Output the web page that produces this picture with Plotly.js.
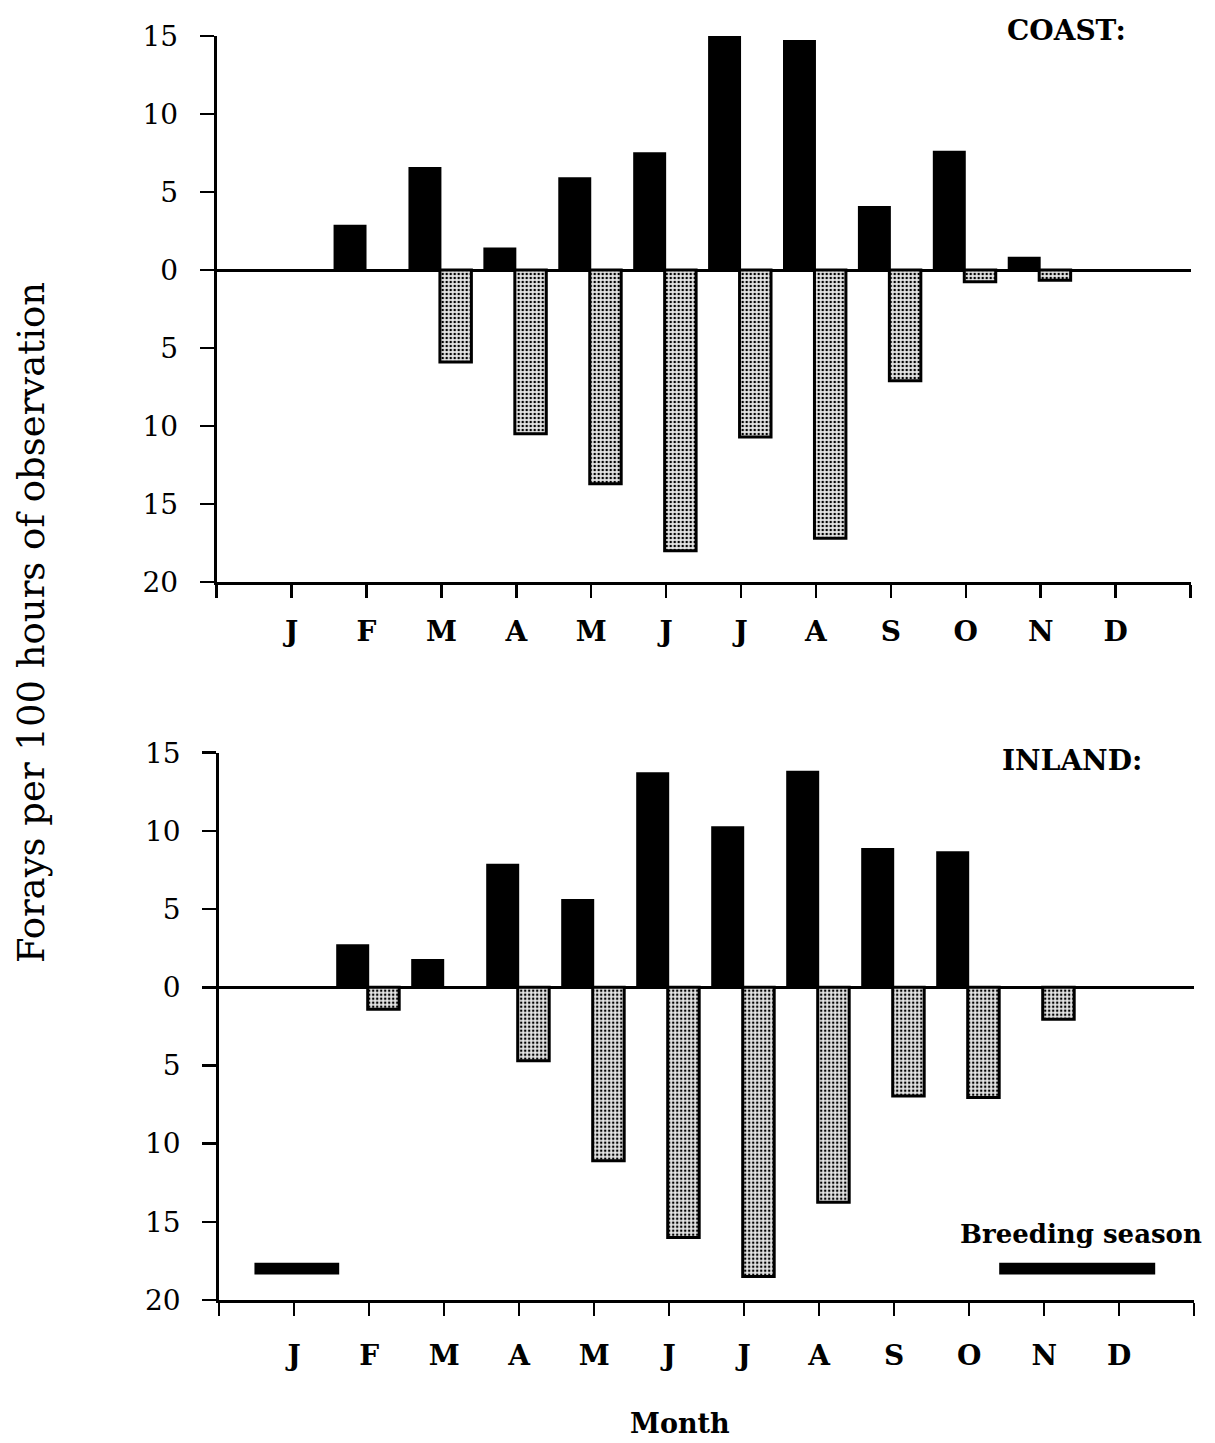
<!DOCTYPE html>
<html>
<head>
<meta charset="utf-8">
<script src="https://cdn.plot.ly/plotly-3.0.1.min.js"></script>
<style>
  html, body { margin: 0; padding: 0; background: #fff; }
  #chart { width: 1215px; height: 1443px; }
</style>
</head>
<body>
<div id="chart"></div>
<script>
// Month labels, January to December
const months = ['J', 'F', 'M', 'A', 'M', 'J', 'J', 'A', 'S', 'O', 'N', 'D'];

// Forays per 100 hours of observation, coast site
const coastAbove = [0, 2.9, 6.6, 1.45, 5.95, 7.55, 15.05, 14.75, 4.1, 7.65, 0.85, 0];
const coastBelow = [0, 0, 5.9, 10.5, 13.7, 18.0, 10.7, 17.2, 7.1, 0.75, 0.65, 0];

// Forays per 100 hours of observation, inland site
const inlandAbove = [0, 2.75, 1.8, 7.9, 5.65, 13.75, 10.3, 13.85, 8.9, 8.7, 0, 0];
const inlandBelow = [0, 1.4, 0, 4.7, 11.1, 16.0, 18.5, 13.75, 6.95, 7.05, 2.05, 0];

// Breeding season spans on the month scale (1 = January centre)
const breedingStart = [0.47, 10.4];
const breedingEnd = [1.6, 12.48];

// Both halves of the value axis are read as positive counts
const yTickVals = [-20, -15, -10, -5, 0, 5, 10, 15];
const yTickText = ['20', '15', '10', '5', '0', '5', '10', '15'];

const monthPos = months.map((m, i) => i + 1);
const xTickVals = [0].concat(monthPos, [13]);
const xTickText = [''].concat(months, ['']);

const SERIF = 'DejaVu Serif, Liberation Serif, serif';

// months with no forays get no bar at all
const orNull = v => (v === 0 ? null : v);

function upperBars(vals, xa, ya) {
  return {
    type: 'bar', x: monthPos, y: vals.map(orNull), xaxis: xa, yaxis: ya,
    width: 0.44, offset: -0.44,
    marker: { color: '#000', line: { width: 0 } }
  };
}
function lowerBars(vals, xa, ya) {
  return {
    type: 'bar', x: monthPos, y: vals.map(v => orNull(-v)), xaxis: xa, yaxis: ya,
    width: 0.42, offset: -0.02,
    marker: {
      color: '#e4e4e4',
      pattern: { shape: '.', fgcolor: '#000', bgcolor: '#e4e4e4', size: 4, solidity: 0.3 },
      line: { color: '#000', width: 3 }
    }
  };
}

const breeding = {
  type: 'bar', orientation: 'h',
  base: breedingStart,
  x: breedingEnd.map((e, i) => e - breedingStart[i]),
  y: breedingStart.map(() => -18),
  width: 0.75,
  xaxis: 'x2', yaxis: 'y2',
  marker: { color: '#000', line: { width: 0 } }
};

const data = [
  upperBars(coastAbove, 'x', 'y'),
  lowerBars(coastBelow, 'x', 'y'),
  upperBars(inlandAbove, 'x2', 'y2'),
  lowerBars(inlandBelow, 'x2', 'y2'),
  breeding
];

function xAxis(domain, anchor, standoff) {
  return {
    domain: domain, anchor: anchor, range: [0, 13],
    tickmode: 'array', tickvals: xTickVals, ticktext: xTickText,
    ticks: 'outside', ticklen: 13, tickwidth: 2.5, tickcolor: '#000',
    showline: true, linewidth: 3, linecolor: '#000',
    showgrid: false, zeroline: false,
    ticklabelstandoff: standoff,
    tickfont: { family: SERIF, size: 28, color: '#000', weight: 'bold' },
    fixedrange: true
  };
}
function yAxis(domain, anchor) {
  return {
    domain: domain, anchor: anchor, range: [-20, 15],
    tickmode: 'array', tickvals: yTickVals, ticktext: yTickText,
    ticks: 'outside', ticklen: 14, tickwidth: 2.5, tickcolor: '#000',
    showline: true, linewidth: 3, linecolor: '#000',
    showgrid: false,
    zeroline: true, zerolinecolor: '#000', zerolinewidth: 3,
    ticklabelstandoff: 16,
    tickfont: { family: SERIF, size: 28, color: '#000' },
    fixedrange: true
  };
}

const W = 1215, H = 1443;
const px = v => v / W;
const py = v => 1 - v / H;

const layout = {
  width: W, height: H,
  margin: { l: 0, r: 0, t: 0, b: 0, pad: 0 },
  paper_bgcolor: '#fff', plot_bgcolor: '#fff',
  showlegend: false, barmode: 'overlay', hovermode: false,
  xaxis: xAxis([px(216.7), px(1190.5)], 'y', 9),
  yaxis: yAxis([py(582), py(36)], 'x'),
  xaxis2: xAxis([px(219.2), px(1194.2)], 'y2', 15),
  yaxis2: yAxis([py(1300), py(752.7)], 'x2'),
  annotations: [
    { text: 'COAST:', xref: 'paper', yref: 'paper', x: px(1128), y: py(30),
      xanchor: 'right', yanchor: 'middle', showarrow: false,
      font: { family: SERIF, size: 28, color: '#000', weight: 'bold' } },
    { text: 'INLAND:', xref: 'paper', yref: 'paper', x: px(1144), y: py(760),
      xanchor: 'right', yanchor: 'middle', showarrow: false,
      font: { family: SERIF, size: 28, color: '#000', weight: 'bold' } },
    { text: 'Breeding season', xref: 'paper', yref: 'paper', x: px(958), y: py(1234),
      xanchor: 'left', yanchor: 'middle', showarrow: false,
      font: { family: SERIF, size: 26, color: '#000', weight: 'bold' } },
    { text: 'Forays per 100 hours of observation', xref: 'paper', yref: 'paper',
      x: px(31), y: py(623), xanchor: 'center', yanchor: 'middle', textangle: -90,
      showarrow: false, font: { family: SERIF, size: 37, color: '#000' } },
    { text: 'Month', xref: 'paper', yref: 'paper', x: px(680), y: py(1423),
      xanchor: 'center', yanchor: 'middle', showarrow: false,
      font: { family: SERIF, size: 27, color: '#000', weight: 'bold' } }
  ]
};

Plotly.newPlot('chart', data, layout, { staticPlot: true, displayModeBar: false });
</script>
</body>
</html>
